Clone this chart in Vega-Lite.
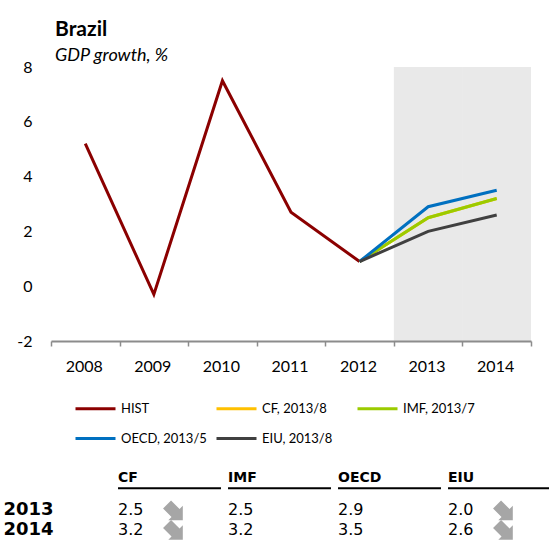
{
  "$schema": "https://vega.github.io/schema/vega-lite/v6.json",
  "padding": {"left": 3, "top": 19, "right": 0, "bottom": 0},
  "background": "white",
  "config": {"view": {"stroke": null}, "font": "Lato"},
  "spacing": 97,
  "datasets": {
    "series": [
      {"year": "2008", "series": "HIST", "value": 5.2},
      {"year": "2009", "series": "HIST", "value": -0.3},
      {"year": "2010", "series": "HIST", "value": 7.5},
      {"year": "2011", "series": "HIST", "value": 2.7},
      {"year": "2012", "series": "HIST", "value": 0.9},
      {"year": "2012", "series": "CF, 2013/8", "value": 0.9},
      {"year": "2013", "series": "CF, 2013/8", "value": 2.5},
      {"year": "2014", "series": "CF, 2013/8", "value": 3.2},
      {"year": "2012", "series": "IMF, 2013/7", "value": 0.9},
      {"year": "2013", "series": "IMF, 2013/7", "value": 2.5},
      {"year": "2014", "series": "IMF, 2013/7", "value": 3.2},
      {"year": "2012", "series": "OECD, 2013/5", "value": 0.9},
      {"year": "2013", "series": "OECD, 2013/5", "value": 2.9},
      {"year": "2014", "series": "OECD, 2013/5", "value": 3.5},
      {"year": "2012", "series": "EIU, 2013/8", "value": 0.9},
      {"year": "2013", "series": "EIU, 2013/8", "value": 2.0},
      {"year": "2014", "series": "EIU, 2013/8", "value": 2.6}
    ],
    "tbl": [
      {"year": "2013", "src": "CF", "value": 2.5, "rev": "down"},
      {"year": "2014", "src": "CF", "value": 3.2, "rev": "down"},
      {"year": "2013", "src": "IMF", "value": 2.5, "rev": "none"},
      {"year": "2014", "src": "IMF", "value": 3.2, "rev": "none"},
      {"year": "2013", "src": "OECD", "value": 2.9, "rev": "none"},
      {"year": "2014", "src": "OECD", "value": 3.5, "rev": "none"},
      {"year": "2013", "src": "EIU", "value": 2.0, "rev": "down"},
      {"year": "2014", "src": "EIU", "value": 2.6, "rev": "down"}
    ],
    "hdr": [{"src": "CF"}, {"src": "IMF"}, {"src": "OECD"}, {"src": "EIU"}]
  },
  "vconcat": [
    {
      "width": 480,
      "height": 274,
      "title": {
        "text": "Brazil",
        "subtitle": "GDP growth, %",
        "anchor": "start",
        "frame": "group",
        "dx": 4,
        "font": "Lato",
        "fontSize": 21,
        "fontWeight": "bold",
        "color": "black",
        "subtitleFont": "Lato",
        "subtitleFontSize": 18,
        "subtitleFontStyle": "italic",
        "subtitleColor": "black",
        "subtitlePadding": 7,
        "offset": -6
      },
      "layer": [
        {
          "data": {"values": [{"year": "2013"}, {"year": "2014"}]},
          "mark": {"type": "rect", "fill": "#000", "fillOpacity": 0.085},
          "encoding": {
            "x": {
              "field": "year",
              "type": "ordinal",
              "scale": {"domain": ["2008", "2009", "2010", "2011", "2012", "2013", "2014"], "paddingInner": 0, "paddingOuter": 0}
            },
            "y": {"datum": 8, "type": "quantitative"},
            "y2": {"datum": -2}
          }
        },
        {
          "data": {"name": "series"},
          "mark": {"type": "line", "strokeWidth": 3},
          "encoding": {
            "x": {
              "field": "year",
              "type": "ordinal",
              "scale": {"domain": ["2008", "2009", "2010", "2011", "2012", "2013", "2014"], "paddingInner": 0, "paddingOuter": 0},
              "axis": {
                "title": null,
                "labelAngle": 0,
                "domainColor": "#8c8c8c",
                "domainWidth": 2,
                "tickColor": "#8c8c8c",
                "tickWidth": 1.5,
                "tickSize": 5,
                "tickBand": "extent",
                "labelOffset": 17,
                "labelFont": "Lato",
                "labelFontSize": 16,
                "labelColor": "black",
                "labelPadding": 20,
                "grid": false
              }
            },
            "y": {
              "field": "value",
              "type": "quantitative",
              "scale": {"domain": [-2, 8], "nice": false, "zero": false},
              "axis": {
                "title": null,
                "values": [-2, 0, 2, 4, 6, 8],
                "labelExpr": "'' + datum.value",
                "domain": false,
                "ticks": false,
                "labelPadding": 19,
                "gridColor": "#8c8c8c",
                "gridWidth": 1.5,
                "labelFont": "Lato",
                "labelFontSize": 16,
                "labelColor": "black"
              }
            },
            "color": {
              "field": "series",
              "type": "nominal",
              "scale": {
                "domain": ["HIST", "CF, 2013/8", "IMF, 2013/7", "OECD, 2013/5", "EIU, 2013/8"],
                "range": ["#8B0000", "#FFC000", "#9BCB00", "#0070C0", "#404040"]
              },
              "legend": {
                "title": null,
                "orient": "none",
                "legendX": 23,
                "legendY": 320,
                "direction": "horizontal",
                "columns": 3,
                "symbolType": "stroke",
                "symbolSize": 1600,
                "symbolStrokeWidth": 3,
                "labelFont": "Lato",
                "labelFontSize": 13,
                "labelColor": "black",
                "labelOffset": 4,
                "columnPadding": 3,
                "rowPadding": 1,
                "gridAlign": "all",
                "padding": 0,
                "labelLimit": 200
              }
            }
          }
        }
      ]
    },
    {
      "width": 498,
      "height": 58.5,
      "encoding": {
        "x": {
          "field": "src",
          "type": "nominal",
          "scale": {"domain": ["CF", "IMF", "OECD", "EIU"], "range": [63.5, 503.5], "paddingInner": 0, "paddingOuter": 0},
          "axis": null
        }
      },
      "layer": [
        {
          "data": {"name": "hdr"},
          "mark": {"type": "text", "font": "DejaVu Sans", "fontWeight": "bold", "fontSize": 14, "align": "left", "baseline": "middle", "dy": -12.5, "color": "black"},
          "encoding": {
            "x": {"field": "src", "type": "nominal", "bandPosition": 0.032},
            "y": {"datum": "hdr", "type": "nominal"},
            "text": {"field": "src"}
          }
        },
        {
          "data": {"name": "hdr"},
          "mark": {"type": "bar", "color": "black", "height": 2, "width": {"band": 0.936}, "yOffset": -2.5},
          "encoding": {
            "y": {"datum": "hdr", "type": "nominal"}
          }
        },
        {
          "data": {"name": "tbl"},
          "mark": {"type": "text", "font": "DejaVu Sans", "fontSize": 16, "align": "left", "baseline": "middle", "color": "black"},
          "encoding": {
            "x": {"field": "src", "type": "nominal", "bandPosition": 0.032},
            "y": {
              "field": "year",
              "type": "nominal",
              "scale": {"domain": ["hdr", "2013", "2014"], "paddingInner": 0, "paddingOuter": 0},
              "axis": {
                "title": null,
                "domain": false,
                "ticks": false,
                "labelAlign": "left",
                "labelPadding": 48,
                "labelFont": "DejaVu Sans",
                "labelFontSize": 18,
                "labelFontWeight": "bold",
                "labelColor": "black",
                "labelBaseline": "middle",
                "labelExpr": "datum.value == 'hdr' ? '' : datum.value"
              }
            },
            "text": {"field": "value", "format": ".1f"}
          }
        },
        {
          "data": {"name": "tbl"},
          "transform": [{"filter": "datum.rev == 'down'"}],
          "mark": {"type": "point", "filled": true, "color": "#A6A6A6", "opacity": 1, "size": 400, "strokeWidth": 0, "shape": "M1,1 L-0.45,1 L-0.125,0.675 L-0.975,-0.175 L-0.175,-0.975 L0.675,-0.125 L1,-0.45 Z"},
          "encoding": {
            "x": {"field": "src", "type": "nominal", "bandPosition": 0.53},
            "y": {"field": "year", "type": "nominal"}
          }
        }
      ]
    }
  ]
}
